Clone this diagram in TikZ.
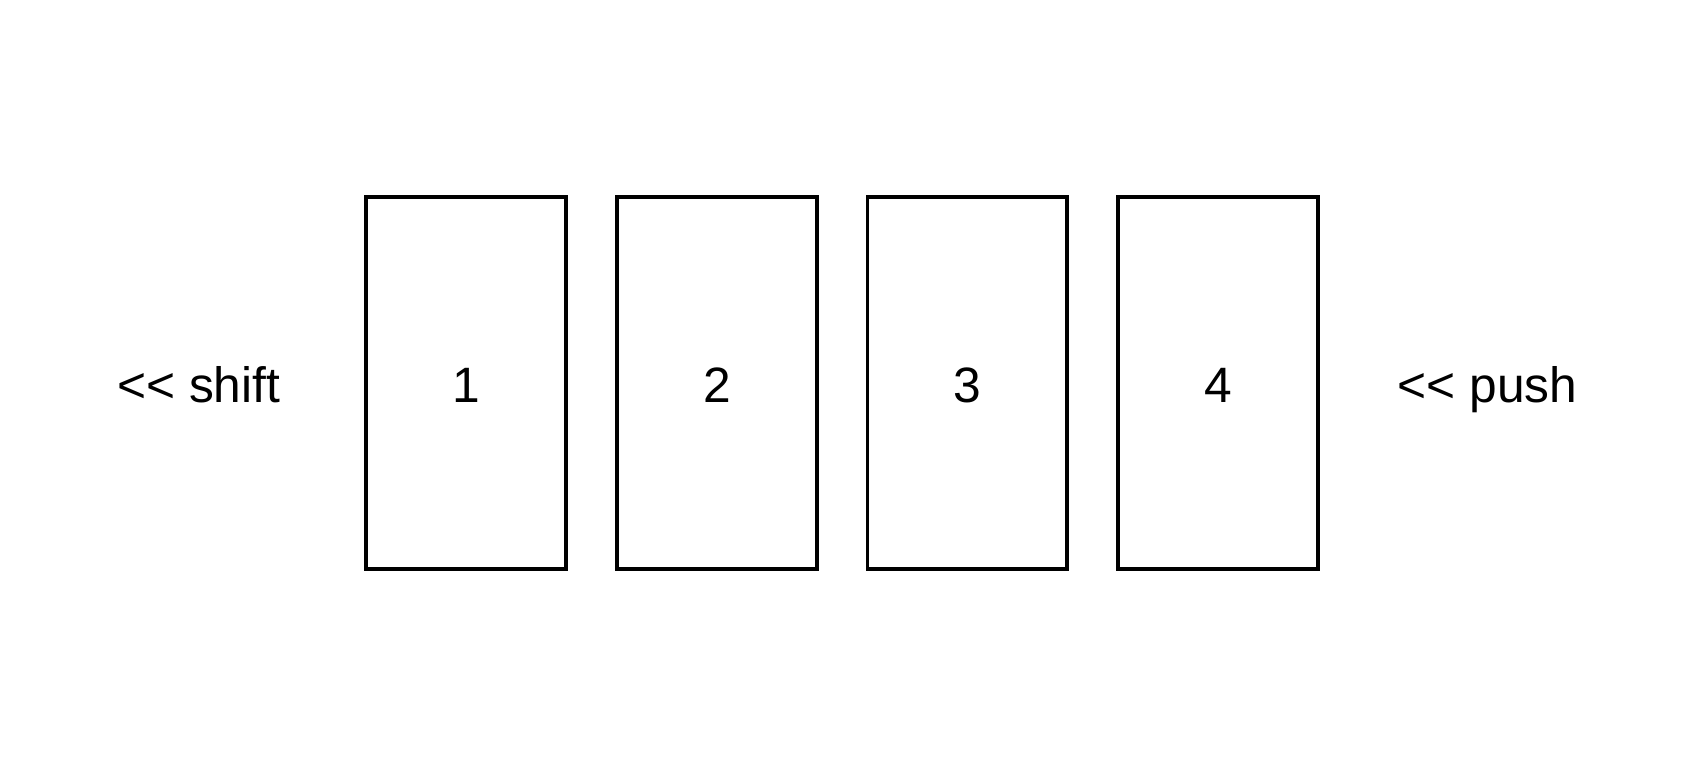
\documentclass[tikz,border=0pt]{standalone}
\usepackage{fontspec}
\setmainfont{Liberation Sans}
\usetikzlibrary{positioning}

\begin{document}
\begin{tikzpicture}[x=0.5pt,y=-0.5pt, font=\fontsize{23}{28}\selectfont,
  node distance=21.7pt,
  cell/.style={draw, line width=1.8pt, minimum width=92.5pt, minimum height=172.5pt, inner sep=0pt, text height=18.5pt, text depth=0pt}]
  \useasboundingbox (0,0) rectangle (1568,720);

  \node[cell] (c1) at (431.5,354.5) {1};
  \node[cell, right=of c1] (c2) {2};
  \node[cell, right=of c2] (c3) {3};
  \node[cell, right=of c3] (c4) {4};

  \node[anchor=base] (shift) at (184,373) {<\kern0pt< shift};
  \node[anchor=base] (push) at (1377,373) {<\kern0pt< push};
\end{tikzpicture}
\end{document}
